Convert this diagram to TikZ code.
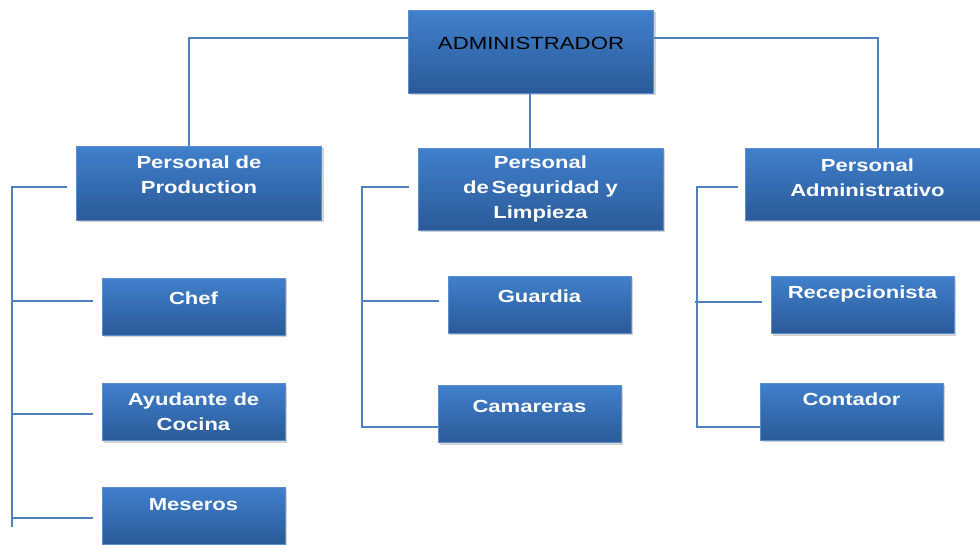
\documentclass[tikz,border=0pt]{standalone}
\usepackage{fontspec}
\setmainfont{Liberation Sans}[FakeStretch=1.26]
\usetikzlibrary{positioning,shadows,calc}
\definecolor{boxtop}{RGB}{64,128,204}
\definecolor{boxbot}{RGB}{43,90,152}
\definecolor{boxrim}{RGB}{92,142,206}
\definecolor{linkblue}{RGB}{79,129,192}
\tikzset{
  orgbox/.style={rectangle, draw=boxrim, line width=0.6pt, top color=boxtop, middle color=boxtop!92!boxbot, bottom color=boxbot,
    minimum width=183pt, minimum height=57pt, inner sep=0pt, align=center, text=white,
    font=\fontsize{17.5}{25}\selectfont\bfseries,
    drop shadow={shadow xshift=2pt, shadow yshift=-2pt, opacity=.35}},
  headbox/.style={orgbox, minimum width=245pt},
  lift/.style={text depth=#1},
  link/.style={draw=linkblue, line width=1.6pt}
}
\begin{document}
\begin{tikzpicture}[x=1pt, y=-1pt]
        \useasboundingbox (0,0) rectangle (980,544);
        % top
        \node[headbox, minimum height=83pt, lift=16pt, text=black, font=\fontsize{17.6}{22}\selectfont] (admin) at (531,51.5) {ADMINISTRADOR};
        % second level
        \node[headbox, minimum height=74pt, lift=16pt] (prod) at (199,183) {Personal de\\Production};
        \node[headbox, minimum height=82pt] (segur) at (540.5,189) {Personal\\de\,Seguridad y\\Limpieza};
        \node[headbox, minimum height=72pt, lift=13pt] (adminv) at (867.5,184) {Personal\\Administrativo};
        % third level
        \foreach \name/\x/\y/\d/\txt in {chef/193.5/306.5/17.5pt/Chef, ayud/193.5/412/0pt/{Ayudante de\\Cocina}, meser/193.5/515.5/21.5pt/Meseros,
                guard/539.5/304.5/17.5pt/Guardia, camar/529.5/414/15.5pt/Camareras, recep/862.5/305/25pt/Recepcionista, conta/851.5/411.5/25.5pt/Contador}
                {\node[orgbox, lift=\d] (\name) at (\x,\y) {\txt};}
        % connectors from the top
        \draw[link] (admin.west |- 0,38) -| (prod.north -| 189,0);
        \draw[link] (admin.east |- 0,38) -| (adminv.north -| 878,0);
        \draw[link] (admin.south -| 530,0) -- (segur.north -| 530,0);
        % left branch
        \draw[link] ([shift={(-9,4)}]prod.west) -| (12,527);
        \draw[link] ([shift={(-9,-5.5)}]chef.west) -- ++(-81,0);
        \draw[link] ([shift={(-9,2)}]ayud.west) -- ++(-81,0);
        \draw[link] ([shift={(-9,2.5)}]meser.west) -- ++(-81,0);
        % middle branch
        \draw[link] ([shift={(-9,-2)}]segur.west) -| ([shift={(0,13)}]camar.west -| 362,0) -- ([shift={(0,13)}]camar.west);
        \draw[link] ([shift={(-9,-3.5)}]guard.west) -- ++(-78,0);
        % right branch
        \draw[link] ([shift={(-7,3)}]adminv.west) -| ([shift={(0,15.5)}]conta.west -| 697,0) -- ([shift={(0,15.5)}]conta.west);
        \draw[link] ([shift={(-9,-3)}]recep.west) -- ++(-67,0);
\end{tikzpicture}
\end{document}
